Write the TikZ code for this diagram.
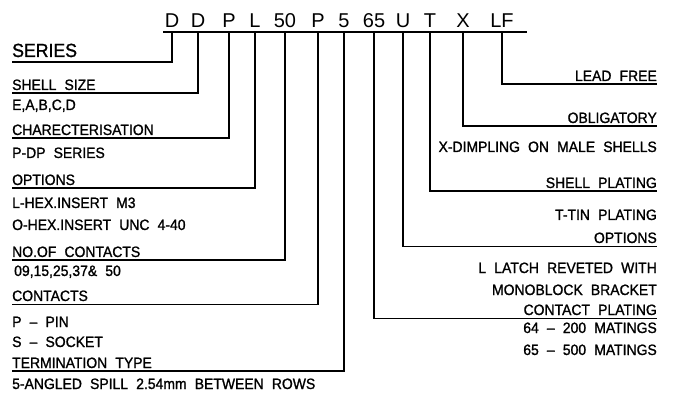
\documentclass[tikz,border=0pt]{standalone}
\usepackage{fontspec}
\setmainfont{Liberation Sans}
\newfontfamily\lblfont[WordSpace=2.1,FakeBold=1.2,FakeStretch=0.93]{Liberation Sans}
\tikzset{
  code/.style={font=\fontsize{20}{20}\selectfont,anchor=base,inner sep=0pt},
  lbl/.style={font=\lblfont\fontsize{15}{15}\selectfont,inner sep=0pt},
  lft/.style={lbl,anchor=base west},
  rgt/.style={lbl,anchor=base east},
  lead/.style={line width=1.4pt}
}

\begin{document}
\begin{tikzpicture}[x=1pt,y=-1pt]
\useasboundingbox (0,0) rectangle (675,398);
\coordinate (barL) at (163,32);
\coordinate (barR) at (527,32);
\foreach \n/\x/\t in {ka/172/D,kb/198/D,kc/229/P,kd/255/L,ke/285/50,kf/318/P,
                      kg/344/5,kh/374/65,ki/403/U,kj/430/T,kk/463/X,kl/502/LF}
  \node[code] (\n) at (\x,28) {\t};
% left side
\node[lft,font=\lblfont\fontsize{19}{19}\selectfont] (sr) at (12,57) {SERIES};
\node[lft] (ss)   at (12,90)  {SHELL SIZE};
\node[lft] (ssv)  at (12,110) {E,A,B,C,D};
\node[lft] (ch)   at (12,135) {CHARECTERISATION};
\node[lft] (chv)  at (12,158) {P-DP SERIES};
\node[lft] (op)   at (12,185) {OPTIONS};
\node[lft] (opv)  at (12,208) {L-HEX.INSERT M3};
\node[lft] (opw)  at (12,230) {O-HEX.INSERT UNC 4-40};
\node[lft] (nc)   at (12,257) {NO.OF CONTACTS};
\node[lft] (ncv)  at (14,276) {09,15,25,37\& 50};
\node[lft] (ct)   at (12,301) {CONTACTS};
\node[lft] (ctv)  at (12,327) {P \textendash{} PIN};
\node[lft] (ctw)  at (12,347) {S \textendash{} SOCKET};
\node[lft] (tt)   at (12,368) {TERMINATION TYPE};
\node[lft] (ttv)  at (12,389) {5-ANGLED SPILL 2.54mm BETWEEN ROWS};
% right side
\node[rgt] (lf)   at (657,81)  {LEAD FREE};
\node[rgt] (ob)   at (657,123) {OBLIGATORY};
\node[rgt] (obv)  at (657,152) {X-DIMPLING ON MALE SHELLS};
\node[rgt] (sp)   at (657,188) {SHELL PLATING};
\node[rgt] (spv)  at (657,220) {T-TIN PLATING};
\node[rgt] (uo)   at (657,243) {OPTIONS};
\node[rgt] (uov)  at (657,273) {L LATCH REVETED WITH};
\node[rgt] (uow)  at (657,295) {MONOBLOCK BRACKET};
\node[rgt] (cp)   at (657,315) {CONTACT PLATING};
\node[rgt] (cpv)  at (657,333) {64 \textendash{} 200 MATINGS};
\node[rgt] (cpw)  at (657,355) {65 \textendash{} 500 MATINGS};
% leaders
\draw[lead] (barL) -- (barR);
\draw[lead] (ka |- barL) |- ([yshift=-5pt]sr.base west);
\draw[lead] (kb |- barL) |- ([yshift=-3pt]ss.base west);
\draw[lead] (kc |- barL) |- ([yshift=-3pt]ch.base west);
\draw[lead] (kd |- barL) |- ([yshift=-3pt]op.base west);
\draw[lead] (ke |- barL) |- ([yshift=-3pt]nc.base west);
\draw[lead] (kf |- barL) |- ([yshift=-3.5pt]ct.base west);
\draw[lead] (kg |- barL) |- ([yshift=-3pt]tt.base west);
\draw[lead] (kh |- barL) |- ([yshift=-3.5pt]cp.base east);
\draw[lead] (ki |- barL) |- ([yshift=-3.5pt]uo.base east);
\draw[lead] (kj |- barL) |- ([yshift=-3pt]sp.base east);
\draw[lead] (kk |- barL) |- ([yshift=-3pt]ob.base east);
\draw[lead] (kl |- barL) |- ([yshift=-3pt]lf.base east);
\end{tikzpicture}
\end{document}
